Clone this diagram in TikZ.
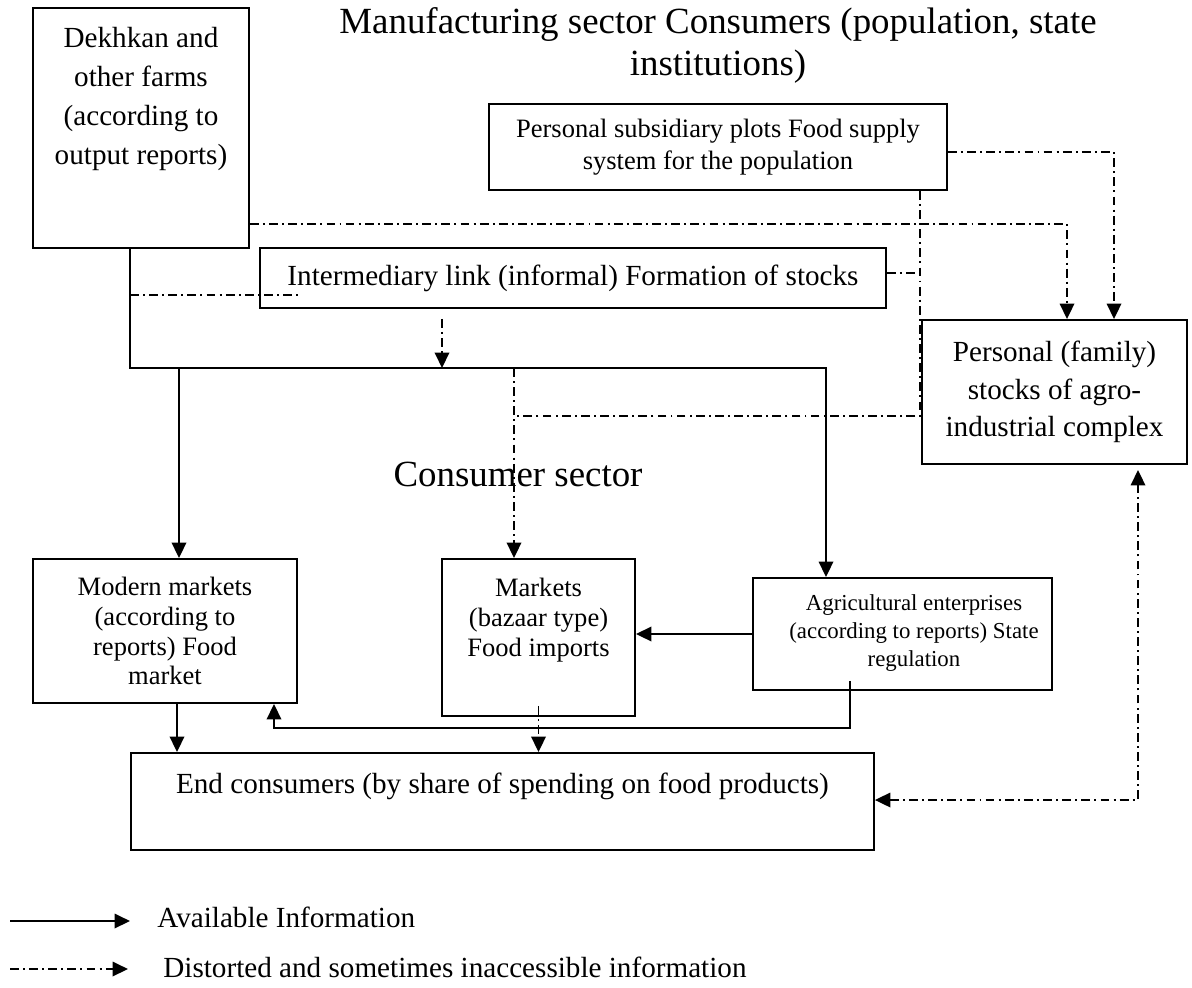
\documentclass[tikz,border=0pt]{standalone}
\usepackage{fontspec}
\setmainfont{Liberation Serif}
\usetikzlibrary{arrows.meta}
\tikzset{
  box/.style={draw, line width=1.1pt, inner sep=0pt, align=center},
  txt/.style={inner sep=0pt, align=center},
  fbig/.style={font=\fontsize{21pt}{23.8pt}\selectfont},
  fmain/.style={font=\fontsize{16.6pt}{22.1pt}\selectfont},
  fmid/.style={font=\fontsize{15.1pt}{17pt}\selectfont},
  fsmall/.style={font=\fontsize{13pt}{15.9pt}\selectfont},
  solidln/.style={line width=1.1pt},
  solidarr/.style={solidln, -{Triangle[length=0.31cm,width=0.29cm]}},
  dashln/.style={line width=1.1pt, dash pattern=on 5pt off 2.4pt on 1.1pt off 2.4pt},
  dasharr/.style={dashln, -{Triangle[length=0.31cm,width=0.29cm]}},
}
\begin{document}
\begin{tikzpicture}[x=0.02cm, y=-0.02cm]
\useasboundingbox (0,0) rectangle (1192,987);
%titles
\node[txt, fbig, anchor=north] (title) at (718,7) {Manufacturing sector Consumers (population, state\\institutions)};
\node[txt, fbig, anchor=base] (csector) at (518,486) {Consumer sector};
%boxes
\node[box, minimum width=4.32cm, minimum height=4.8cm] (farm) at (141,128) {};
\node[txt, fmain, anchor=north] (farmtxt) at (141,27) {Dekhkan and\\other farms\\(according to\\output reports)};
\node[box, font=\fontsize{15.1pt}{18.1pt}\selectfont, minimum width=9.16cm, minimum height=1.72cm] (subs) at (718,147) {Personal subsidiary plots Food supply\\system for the population};
\node[box, fmain, minimum width=12.52cm, minimum height=1.2cm] (inter) at (573,278) {Intermediary link (informal) Formation of stocks};
\node[box, font=\fontsize{16.6pt}{21.5pt}\selectfont, minimum width=5.3cm, minimum height=2.88cm] (family) at (1054.5,392) {Personal (family)\\stocks of agro-\\industrial complex};
\node[box, fmid, minimum width=5.28cm, minimum height=2.88cm] (modern) at (165,631) {Modern markets\\(according to\\reports) Food\\market};
\node[box, minimum width=3.86cm, minimum height=3.14cm] (mkt) at (538.5,637.5) {};
\node[txt, fmid, anchor=north] (mkttxt) at (538.5,578) {Markets\\(bazaar type)\\Food imports};
\node[box, minimum width=5.98cm, minimum height=2.24cm] (agri) at (902.5,634) {};
\node[txt, fsmall] (agritxt) at (914,633) {Agricultural enterprises\\(according to reports) State\\regulation};
\node[box, minimum width=14.86cm, minimum height=1.94cm] (endc) at (502.5,801.5) {};
\node[txt, fmain, anchor=base] (endtxt) at (502.5,793) {End consumers (by share of spending on food products)};
%solid links
\coordinate (trunk) at (130,368);
\coordinate (trunkR) at (826,368);
\coordinate (br1) at (179,368);
\draw[solidarr] (farm.south -| trunk) -- (trunk) -- (trunkR) -- (trunkR |- agri.north);
\draw[solidarr] (br1) -- (br1 |- modern.north);
\draw[solidarr] (agri.west) -- (agri.west -| mkt.east);
\draw[solidarr] ([xshift=0.24cm]modern.south) -- ([xshift=0.24cm]modern.south |- endc.north);
\coordinate (ret1) at (850,728);
\coordinate (ret2) at (274,728);
\draw[solidarr] ([yshift=0.2cm]agri.south -| ret1) -- (ret1) -- (ret2) -- (ret2 |- modern.south);
%distorted links
\coordinate (f1) at (1067,224);
\coordinate (f2) at (1114,152);
\coordinate (f3) at (920,416);
\coordinate (br2) at (514,368);
\coordinate (imid) at (442,368);
\coordinate (tk) at (130,295);
\coordinate (f4) at (1138,800);
\draw[dasharr] (farm.east |- f1) -- (f1) -- (f1 |- family.north);
\draw[dasharr] (subs.east |- f2) -- (f2) -- (f2 |- family.north);
\draw[dashln] (subs.south -| f3) -- (f3) -- (f3 -| br2);
\draw[dashln] ([yshift=0.1cm]inter.east) -- ++(34,0);
\draw[dashln] (tk) -- ++(170,0);
\draw[dasharr] ([yshift=-0.2cm]imid |- inter.south) -- (imid);
\draw[dasharr] (br2) -- (br2 |- mkt.north);
\draw[dasharr] ([yshift=0.22cm]mkt.south) -- (mkt.south |- endc.north);
\draw[dashln, {Triangle[length=0.31cm,width=0.29cm]}-{Triangle[length=0.31cm,width=0.29cm]}] (endc.east |- f4) -- (f4) -- ([yshift=-0.1cm]f4 |- family.south);
%legend
\coordinate (lg1) at (10,921);
\coordinate (lg2) at (10,969);
\draw[solidarr] (lg1) -- ++(120,0);
\draw[dasharr] (lg2) -- ++(118,0);
\node[txt, fmain, anchor=base west] (avail) at (157,927) {Available Information};
\node[txt, fmain, anchor=base west] (distort) at (163,977) {Distorted and sometimes inaccessible information};
\end{tikzpicture}
\end{document}
